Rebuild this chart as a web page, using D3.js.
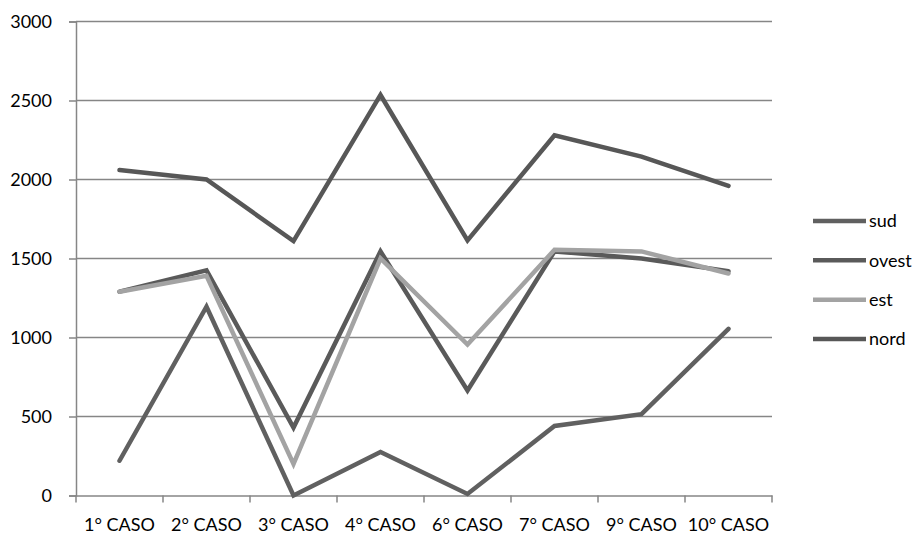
<!DOCTYPE html>
<html>
<head>
<meta charset="utf-8">
<script src="https://cdn.jsdelivr.net/npm/d3@7"></script>
<style>
  html, body { margin: 0; padding: 0; background: #fff; }
  svg { display: block; }
  text { font-family: Lato, "Open Sans", sans-serif; fill: #000; }
</style>
</head>
<body>
<svg id="chart" width="921" height="543"></svg>
<script>
const categories = ["1° CASO", "2° CASO", "3° CASO", "4° CASO", "6° CASO", "7° CASO", "9° CASO", "10° CASO"];
const yTicks = [0, 500, 1000, 1500, 2000, 2500, 3000];
const sud   = [220, 1195, 0, 275, 10, 440, 515, 1055];
const ovest = [1290, 1425, 430, 1545, 665, 1545, 1500, 1420];
const est   = [1290, 1390, 200, 1500, 955, 1555, 1545, 1405];
const nord  = [2060, 2000, 1610, 2535, 1615, 2280, 2145, 1960];

const seriesNames = ["sud", "ovest", "est", "nord"];
const seriesValues = [sud, ovest, est, nord];
const seriesColors = ["#606060", "#5a5a5a", "#a3a3a3", "#575757"];

const svg = d3.select("#chart");
const mLeft = 76, mRight = 772, mTop = 21.5, mBottom = 495.5;
const fontSize = 18;

const x = d3.scaleBand().domain(categories).range([mLeft, mRight]).padding(0);
const y = d3.scaleLinear().domain([0, 3000]).range([mBottom, mTop]);

const gridColor = "#868686";

// horizontal gridlines
svg.append("g").selectAll("line").data(yTicks.filter(d => d > 0)).join("line")
  .attr("x1", mLeft).attr("x2", mRight)
  .attr("y1", d => y(d)).attr("y2", d => y(d))
  .attr("stroke", gridColor).attr("stroke-width", 1.5);

// y axis
const yAxis = svg.append("g").attr("transform", `translate(${mLeft},0)`)
  .call(d3.axisLeft(y).tickValues(yTicks).tickSize(7).tickPadding(17).tickFormat(d3.format("d")));
yAxis.select(".domain").attr("stroke", gridColor).attr("stroke-width", 1.5);
yAxis.selectAll(".tick line").attr("stroke", gridColor).attr("stroke-width", 1.5);
yAxis.selectAll(".tick text").attr("font-size", fontSize).attr("fill", "#000")
  .style("font-family", "Lato, 'Open Sans', sans-serif");

// x axis
const xAxis = svg.append("g").attr("transform", `translate(0,${mBottom})`)
  .call(d3.axisBottom(x).tickSize(0).tickPadding(23));
xAxis.select(".domain").attr("stroke", gridColor).attr("stroke-width", 1.5);
xAxis.selectAll(".tick text").attr("font-size", fontSize).attr("fill", "#000")
  .style("font-family", "Lato, 'Open Sans', sans-serif");
// x boundary ticks
const boundaries = categories.map(c => x(c)).concat([mRight]);
svg.append("g").selectAll("line").data(boundaries).join("line")
  .attr("x1", d => d).attr("x2", d => d)
  .attr("y1", mBottom).attr("y2", mBottom + 7)
  .attr("stroke", gridColor).attr("stroke-width", 1.5);

// lines
const line = d3.line()
  .x((d, i) => x(categories[i]) + x.bandwidth() / 2)
  .y(d => y(d));

[0, 1, 2, 3].forEach(k => {
  svg.append("path")
    .datum(seriesValues[k])
    .attr("fill", "none")
    .attr("stroke", seriesColors[k])
    .attr("stroke-width", 4.5)
    .attr("stroke-linejoin", "miter")
    .attr("stroke-linecap", "round")
    .attr("d", line);
});

// legend
const legend = svg.append("g");
const rowY = d3.scalePoint().domain(seriesNames).range([221, 339]);
seriesNames.forEach((name, k) => {
  const yy = rowY(name);
  legend.append("line")
    .attr("x1", 813).attr("x2", 866).attr("y1", yy).attr("y2", yy)
    .attr("stroke", seriesColors[k]).attr("stroke-width", 4.5);
  legend.append("text")
    .attr("x", 869).attr("y", yy).attr("dy", "0.35em")
    .attr("font-size", fontSize).text(name);
});
</script>
</body>
</html>
